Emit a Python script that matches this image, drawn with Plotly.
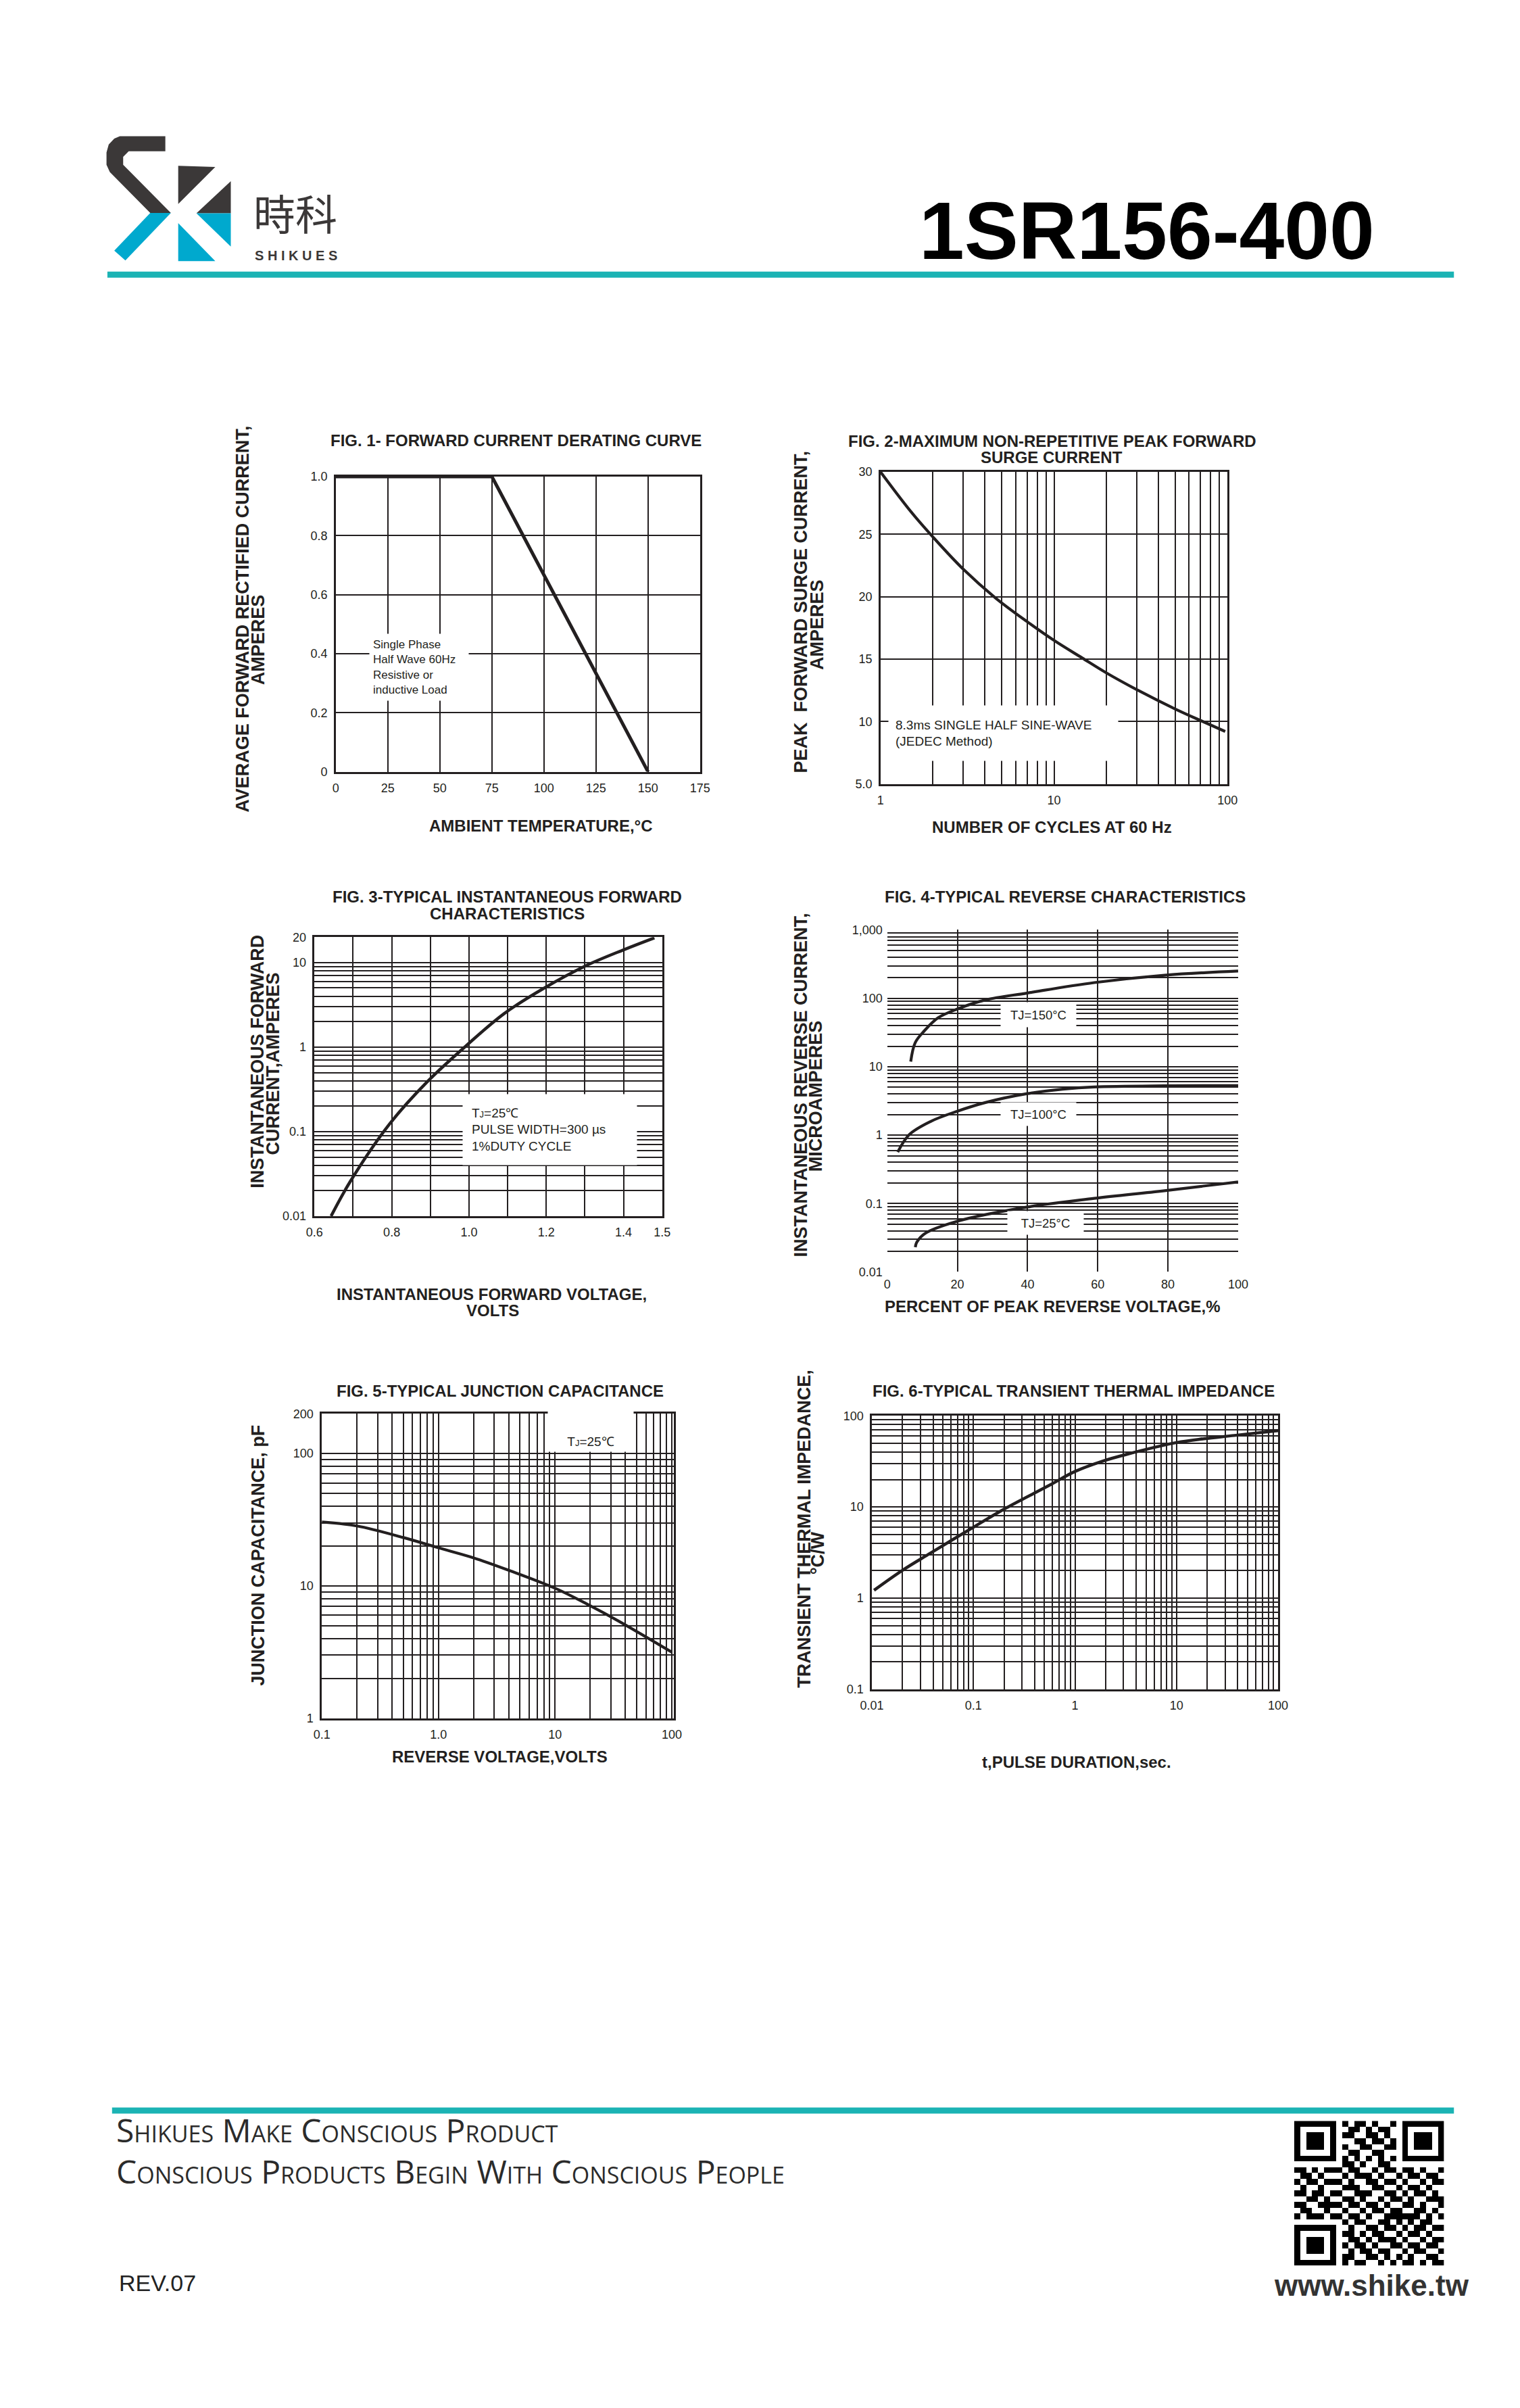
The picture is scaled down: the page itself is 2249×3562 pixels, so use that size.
import plotly.graph_objects as go

W, H = 2249, 3562
FONT = "Liberation Sans, Arial, Helvetica, sans-serif"
INK = "#231f20"
TEAL = "#1bb3b4"
LOGO_DARK = "#3b3838"
LOGO_CYAN = "#00a9ce"

# ---------------- values ----------------
# FIG.1 forward current derating
fig1_temp = [0, 75, 150]
fig1_amps = [1.0, 1.0, 0.0]
fig1_xticks = [0, 25, 50, 75, 100, 125, 150, 175]
fig1_xlabels = ["0", "25", "50", "75", "100", "125", "150", "175"]
fig1_yticks = [0, 0.2, 0.4, 0.6, 0.8, 1.0]
fig1_ylabels = ["0", "0.2", "0.4", "0.6", "0.8", "1.0"]

# FIG.2 peak forward surge current
fig2_cycles = [1, 1.5, 2, 3, 4.6, 7, 10, 14.5, 20, 30, 50, 72, 97]
fig2_amps = [30.0, 26.8, 24.8, 22.2, 19.9, 18.0, 16.5, 15.1, 13.9, 12.55, 11.0, 10.0, 9.2]
fig2_xticks = [1, 10, 100]
fig2_xlabels = ["1", "10", "100"]
fig2_yticks = [5, 10, 15, 20, 25, 30]
fig2_ylabels = ["5.0", "10", "15", "20", "25", "30"]

# FIG.3 forward characteristics
fig3_volts = [0.643, 0.692, 0.795, 0.892, 0.994, 1.091, 1.192, 1.301, 1.401, 1.480]
fig3_amps = [0.01, 0.0254, 0.124, 0.389, 1.05, 2.49, 4.91, 9.1, 14.2, 19.6]
fig3_xticks = [0.6, 0.8, 1.0, 1.2, 1.4, 1.5]
fig3_xlabels = ["0.6", "0.8", "1.0", "1.2", "1.4", "1.5"]
fig3_yticks = [0.01, 0.1, 1, 10, 20]
fig3_ylabels = ["0.01", "0.1", "1", "10", "20"]

# FIG.4 reverse characteristics
fig4_pct_150 = [6.7, 8, 10.6, 14.5, 20, 28, 40, 59, 79, 100]
fig4_ua_150 = [11.9, 22.6, 33.6, 52, 70, 95, 120, 170, 218, 251]
fig4_pct_100 = [3, 6.3, 12.4, 20, 28, 40, 50, 59, 79, 100]
fig4_ua_100 = [0.565, 1.02, 1.59, 2.24, 3.0, 4.05, 4.7, 5.07, 5.27, 5.3]
fig4_pct_25 = [8, 8.4, 10.6, 20, 40, 59, 79, 100]
fig4_ua_25 = [0.023, 0.027, 0.036, 0.055, 0.089, 0.119, 0.154, 0.207]
fig4_xticks = [0, 20, 40, 60, 80, 100]
fig4_xlabels = ["0", "20", "40", "60", "80", "100"]
fig4_yticks = [0.01, 0.1, 1, 10, 100, 1000]
fig4_ylabels = ["0.01", "0.1", "1", "10", "100", "1,000"]

# FIG.5 junction capacitance
fig5_volts = [0.1, 0.2, 0.5, 1.0, 2.0, 3.85, 10, 19.3, 34.7, 100]
fig5_pf = [30.4, 28.4, 23.2, 19.4, 16.3, 13.3, 9.6, 7.2, 5.45, 3.16]
fig5_xticks = [0.1, 1, 10, 100]
fig5_xlabels = ["0.1", "1.0", "10", "100"]
fig5_yticks = [1, 10, 100, 200]
fig5_ylabels = ["1", "10", "100", "200"]

# FIG.6 transient thermal impedance
fig6_sec = [0.0105, 0.02, 0.038, 0.1, 0.212, 0.56, 1, 1.85, 3.15, 10, 18.6, 37, 100]
fig6_zth = [1.22, 2.02, 3.13, 6.0, 9.8, 17.3, 24.5, 31.7, 37.5, 50.8, 56, 60.8, 68.7]
fig6_xticks = [0.01, 0.1, 1, 10, 100]
fig6_xlabels = ["0.01", "0.1", "1", "10", "100"]
fig6_yticks = [0.1, 1, 10, 100]
fig6_ylabels = ["0.1", "1", "10", "100"]

# QR code in the footer (drawn as a picture)
qr_rows = [
    "1111111010110100101111111",
    "1000001001101011001000001",
    "1011101011001101001011101",
    "1011101000110110101011101",
    "1011101010011001101011101",
    "1000001001100110001000001",
    "1111111010101010101111111",
    "0000000011010011000000000",
    "1101011101100101101101001",
    "0110100010111010010110110",
    "1011011101001101101001011",
    "0100100011100110010110100",
    "1101101100111001101011010",
    "0011010011010010110100111",
    "1100111101101101001101001",
    "0110010010010110110011010",
    "1011101101101001111110101",
    "0000000010110011010101100",
    "1111111001001101101011011",
    "1000001011010110010110100",
    "1011101001101011101001011",
    "1011101010110100110110110",
    "1011101001011011001011001",
    "1000001011001101010100110",
    "1111111010110010101101011",
]


def px(x):
    return x / W


def py(y):
    return 1 - y / H


def dom(x0, x1, y0, y1):
    return [px(x0), px(x1)], [py(y1), py(y0)]


def log_grid(lo, hi):
    vals = []
    d = lo
    while d < hi * 0.999:
        for m in range(1, 10):
            vals.append(round(d * m, 6))
        d = round(d * 10, 6)
    vals.append(hi)
    return vals


def make_axis(domain, rng, grid, ticks, labels, anchor, log=False, frame=True):
    lab = {round(v, 6): t for v, t in zip(ticks, labels)}
    vals = sorted(set(round(v, 6) for v in grid) | set(lab))
    return dict(domain=domain, range=rng, type="log" if log else "linear", anchor=anchor,
                tickmode="array", tickvals=vals, ticktext=[lab.get(v, "") for v in vals],
                ticks="", ticklabelstandoff=6, showgrid=True, gridcolor=INK, gridwidth=1.8,
                zeroline=False, showline=frame, mirror=frame, linecolor=INK, linewidth=2.5,
                tickfont=dict(family=FONT, size=18, color=INK), fixedrange=True)


def curve(x, y, n, width=4.2, shape="spline"):
    s = "" if n == 1 else str(n)
    return go.Scatter(x=x, y=y, mode="lines", xaxis="x" + s, yaxis="y" + s,
                      line=dict(color=INK, width=width, shape=shape, smoothing=1.0),
                      showlegend=False, hoverinfo="skip")


def txt(x, y, s, size=24, bold=True, angle=0, xanchor="center", family=FONT, color=INK, **kw):
    return dict(x=px(x), y=py(y), xref="paper", yref="paper", text=s, showarrow=False,
                textangle=angle, xanchor=xanchor, yanchor="middle",
                font=dict(family=family, size=size, color=color,
                          weight="bold" if bold else "normal", **kw))


def box(cx, cy, w, h, s, size=19, align="left", valign="middle", pad=6):
    return dict(x=px(cx), y=py(cy), xref="paper", yref="paper", text=s, showarrow=False,
                xanchor="center", yanchor="middle", width=w, height=h, bgcolor="white",
                align=align, valign=valign, borderpad=pad,
                font=dict(family=FONT, size=size, color=INK))


def poly(points, color):
    path = "M " + " L ".join(f"{px(120 + a / 3):.5f},{py(170 + b / 3):.5f}" for a, b in points) + " Z"
    return dict(type="path", path=path, xref="paper", yref="paper",
                fillcolor=color, line=dict(width=0), layer="above")


fig = go.Figure()
fig.add_trace(curve(fig1_temp, fig1_amps, 1, width=5, shape="linear"))
fig.add_trace(curve(fig2_cycles, fig2_amps, 2))
fig.add_trace(curve(fig3_volts, fig3_amps, 3, width=4.5))
fig.add_trace(curve(fig4_pct_150, fig4_ua_150, 4))
fig.add_trace(curve(fig4_pct_100, fig4_ua_100, 4))
fig.add_trace(curve(fig4_pct_25, fig4_ua_25, 4))
fig.add_trace(curve(fig5_volts, fig5_pf, 5))
fig.add_trace(curve(fig6_sec, fig6_zth, 6, width=4.5))

qr_z = [[int(c) for c in row] for row in qr_rows]
fig.add_trace(go.Heatmap(z=qr_z, xaxis="x7", yaxis="y7", zmin=0, zmax=1, showscale=False,
                         colorscale=[[0, "white"], [1, "black"]], hoverinfo="skip"))

layout = {}
d = dom(486, 1033, 699, 1138)
layout["xaxis"] = make_axis(d[0], [0, 175], [25, 50, 75, 100, 125, 150], fig1_xticks, fig1_xlabels, "y")
layout["yaxis"] = make_axis(d[1], [0, 1.0], [0.2, 0.4, 0.6, 0.8], fig1_yticks, fig1_ylabels, "x")
d = dom(1304, 1825, 692, 1156)
layout["xaxis2"] = make_axis(d[0], [0, 2], log_grid(1, 100), fig2_xticks, fig2_xlabels, "y2", log=True)
layout["yaxis2"] = make_axis(d[1], [5, 30], [10, 15, 20, 25], fig2_yticks, fig2_ylabels, "x2")
d = dom(454, 976, 1384, 1799)
layout["xaxis3"] = make_axis(d[0], [0.6, 1.5], [0.7, 0.8, 0.9, 1.0, 1.1, 1.2, 1.3, 1.4], fig3_xticks, fig3_xlabels, "y3")
layout["yaxis3"] = make_axis(d[1], [-2, 1.30103], log_grid(0.01, 10), fig3_yticks, fig3_ylabels, "x3", log=True)
d = dom(1314, 1841, 1373, 1882)
layout["xaxis4"] = make_axis(d[0], [0, 100], [20, 40, 60, 80], fig4_xticks, fig4_xlabels, "y4", frame=False)
layout["yaxis4"] = make_axis(d[1], [-2, 3.004], log_grid(0.01, 1000), fig4_yticks, fig4_ylabels, "x4", log=True, frame=False)
d = dom(465, 994, 2093, 2546)
layout["xaxis5"] = make_axis(d[0], [-1, 2.02], log_grid(0.1, 100), fig5_xticks, fig5_xlabels, "y5", log=True)
layout["yaxis5"] = make_axis(d[1], [0, 2.30103], log_grid(1, 100), fig5_yticks, fig5_ylabels, "x5", log=True)
d = dom(1291, 1901, 2096, 2503)
layout["xaxis6"] = make_axis(d[0], [-2, 2], log_grid(0.01, 100), fig6_xticks, fig6_xlabels, "y6", log=True)
layout["yaxis6"] = make_axis(d[1], [-1, 2], log_grid(0.1, 100), fig6_yticks, fig6_ylabels, "x6", log=True)
d = dom(1925, 2150, 3145, 3360)
layout["xaxis7"] = dict(domain=d[0], anchor="y7", visible=False, fixedrange=True)
layout["yaxis7"] = dict(domain=d[1], anchor="x7", visible=False, autorange="reversed", fixedrange=True)

tj = "T<span style='font-size:13px'>J</span>=25\u2103"
annotations = [
    # header
    txt(425, 306, "時科", size=62, bold=False, family="Noto Sans CJK TC, Noto Sans CJK SC", color=LOGO_DARK),
    txt(426, 370, "S H I K U E S", size=20, color=LOGO_DARK),
    txt(2048, 333, "1SR156-400", size=120, xanchor="right", color="black"),
    # FIG.1
    txt(757, 645, "FIG. 1- FORWARD CURRENT DERATING CURVE"),
    txt(346, 911, "AVERAGE FORWARD RECTIFIED CURRENT,", size=27, angle=-90),
    txt(369, 942, "AMPERES", size=27, angle=-90),
    txt(794, 1218, "AMBIENT TEMPERATURE,\u00b0C"),
    box(611, 983, 136, 88, "Single Phase<br>Half Wave 60Hz<br>Resistive or<br>inductive Load", size=17, pad=5),
    # FIG.2
    txt(1562, 646, "FIG. 2-MAXIMUM NON-REPETITIVE PEAK FORWARD"),
    txt(1561, 670, "SURGE CURRENT"),
    txt(1184, 900, "PEAK\u00a0\u00a0FORWARD SURGE CURRENT,", size=27, angle=-90),
    txt(1209, 919, "AMPERES", size=27, angle=-90),
    txt(1561, 1220, "NUMBER OF CYCLES AT 60 Hz"),
    box(1488, 1081, 319, 61, "8.3ms SINGLE HALF SINE-WAVE<br>(JEDEC Method)", pad=10),
    # FIG.3
    txt(743, 1324, "FIG. 3-TYPICAL INSTANTANEOUS FORWARD"),
    txt(743, 1349, "CHARACTERISTICS"),
    txt(369, 1569, "INSTANTANEOUS FORWARD", size=27, angle=-90),
    txt(392, 1572, "CURRENT,AMPERES", size=27, angle=-90),
    txt(720, 1915, "INSTANTANEOUS FORWARD VOLTAGE,"),
    txt(722, 1939, "VOLTS"),
    box(807, 1670, 231, 78, tj + "<br>PULSE WIDTH=300 \u00b5s<br>1%DUTY CYCLE", pad=13),
    # FIG.4
    txt(1581, 1324, "FIG. 4-TYPICAL REVERSE CHARACTERISTICS"),
    txt(1184, 1604, "INSTANTANEOUS REVERSE CURRENT,", size=27, angle=-90),
    txt(1207, 1620, "MICROAMPERES", size=27, angle=-90),
    txt(1562, 1933, "PERCENT OF PEAK REVERSE VOLTAGE,%"),
    box(1541, 1499, 107, 32, "TJ=150\u00b0C", size=18.5, align="center", pad=2),
    box(1541, 1647, 107, 30, "TJ=100\u00b0C", size=18.5, align="center", pad=2),
    box(1552, 1809, 108, 30, "TJ=25\u00b0C", size=18.5, align="center", pad=2),
    # FIG.5
    txt(733, 2059, "FIG. 5-TYPICAL JUNCTION CAPACITANCE"),
    txt(369, 2304, "JUNCTION CAPACITANCE, pF", size=27, angle=-90),
    txt(732, 2603, "REVERSE VOLTAGE,VOLTS"),
    box(869, 2119, 118, 52, tj, align="center", valign="bottom", pad=4),
    # FIG.6
    txt(1594, 2059, "FIG. 6-TYPICAL TRANSIENT THERMAL IMPEDANCE"),
    txt(1190, 2264, "TRANSIENT THERMAL IMPEDANCE,", size=27, angle=-90),
    txt(1210, 2300, "\u00b0C/W", size=27, angle=-90),
    txt(1598, 2611, "t,PULSE DURATION,sec."),
    # footer
    txt(154, 3158, "Shikues Make Conscious Product", size=48, bold=False, xanchor="left",
        family="Open Sans, Noto Sans, sans-serif", color="#2b2b2b", variant="small-caps"),
    txt(154, 3220, "Conscious Products Begin With Conscious People", size=48, bold=False, xanchor="left",
        family="Open Sans, Noto Sans, sans-serif", color="#2b2b2b", variant="small-caps"),
    txt(158, 3386, "REV.07", size=34, bold=False, xanchor="left", color="#222222"),
    txt(2190, 3390, "www.shike.tw", size=44, xanchor="right", color="#333333"),
]

shapes = [
    dict(type="rect", xref="paper", yref="paper", x0=px(143), x1=px(2165), y0=py(403), y1=py(394),
         fillcolor=TEAL, line=dict(width=0)),
    dict(type="rect", xref="paper", yref="paper", x0=px(150), x1=px(2165), y0=py(3134), y1=py(3125),
         fillcolor=TEAL, line=dict(width=0)),
    # logo
    poly([(330, 68), (330, 135), (165, 135), (140, 160), (140, 195), (355, 410), (262, 410),
          (80, 228), (65, 195), (65, 140), (75, 105), (100, 78), (125, 68)], LOGO_DARK),
    poly([(262, 410), (355, 410), (150, 622), (100, 578)], LOGO_CYAN),
    poly([(388, 200), (555, 205), (388, 370)], LOGO_DARK),
    poly([(625, 268), (625, 412), (470, 412)], LOGO_DARK),
    poly([(388, 455), (388, 625), (555, 625)], LOGO_CYAN),
    poly([(470, 412), (625, 412), (625, 560)], LOGO_CYAN),
]

fig.update_layout(width=W, height=H, margin=dict(l=0, r=0, t=0, b=0),
                  paper_bgcolor="white", plot_bgcolor="white",
                  annotations=annotations, shapes=shapes, showlegend=False, **layout)

fig.write_html("out.html", config={"displayModeBar": False},
               post_script="document.body.style.margin='0px';")
